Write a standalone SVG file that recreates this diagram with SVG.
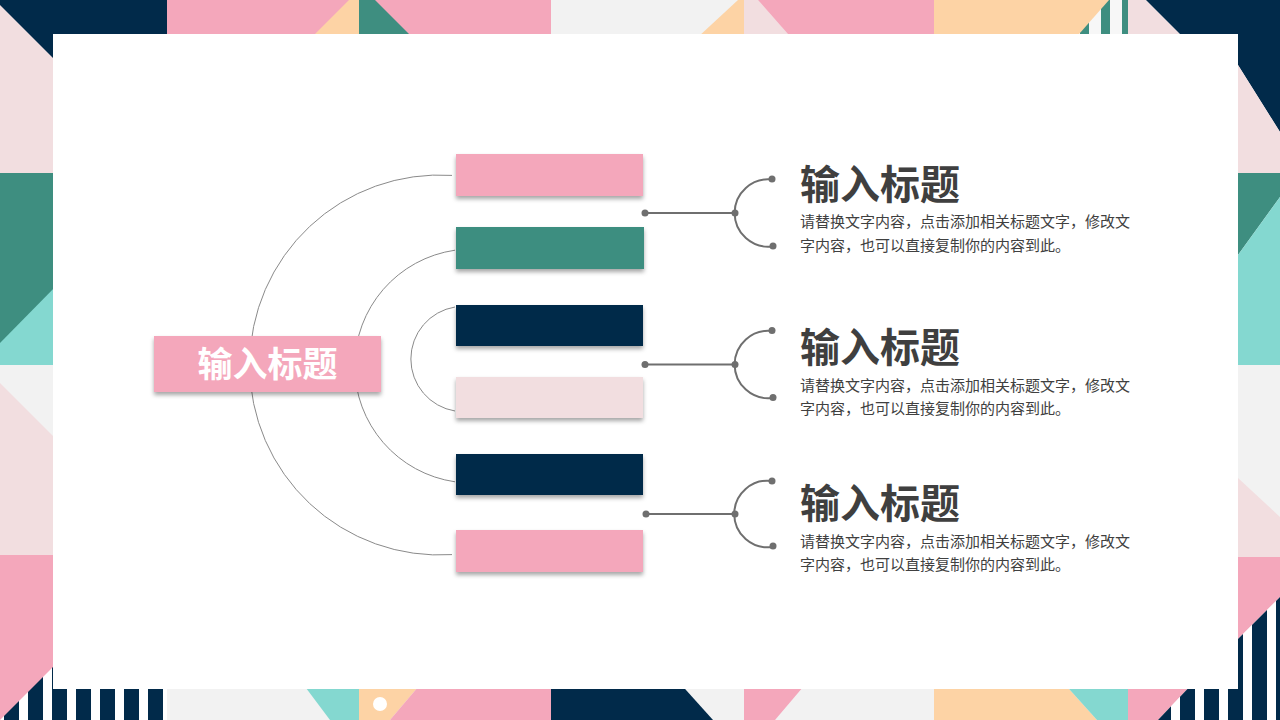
<svg xmlns="http://www.w3.org/2000/svg" width="1280" height="720" viewBox="0 0 1280 720">
  <defs>
    <style>
      .navy{fill:#012A4A}.pink{fill:#F4A7BB}.teal{fill:#3E8E80}.lteal{fill:#84D8D0}
      .peach{fill:#FDD3A5}.lpink{fill:#F2DEE0}.grey{fill:#F2F2F2}
      .arc{fill:none;stroke:#8A8A8A;stroke-width:1}
      .conn{fill:none;stroke:#6F6F6F;stroke-width:2}
      .dot{fill:#6F6F6F}
      .title{font-family:"Noto Sans CJK SC","Noto Sans",sans-serif;font-weight:bold;font-size:40px;fill:#3F3F3F}
      .body{font-family:"Noto Sans CJK SC","Noto Sans",sans-serif;font-size:15px;fill:#404040}
      .label{font-family:"Noto Sans CJK SC","Noto Sans",sans-serif;font-weight:bold;font-size:35px;fill:#FFFFFF}
    </style>
    <pattern id="stripes" patternUnits="userSpaceOnUse" x="0" y="0" width="24" height="10">
      <rect width="24" height="10" fill="#FFFFFF"/>
      <rect x="4" width="15" height="10" fill="#012A4A"/>
    </pattern>
    <pattern id="tstripes" patternUnits="userSpaceOnUse" x="1080" y="0" width="21" height="10">
      <rect width="21" height="10" fill="#F7F7F7"/>
      <rect x="0" width="9" height="10" fill="#3E8E80"/>
    </pattern>
    <filter id="sh" x="-10%" y="-20%" width="120%" height="160%">
      <feDropShadow dx="0" dy="3" stdDeviation="2" flood-color="#000" flood-opacity="0.35"/>
    </filter>
  </defs>

  <!-- background pattern -->
  <g id="background">
    <rect width="1280" height="720" class="grey"/>
    <!-- top strip -->
    <rect x="0" y="0" width="167" height="60" class="navy"/>
    <rect x="167" y="0" width="384" height="50" class="pink"/>
    <polygon points="349,0 359,0 359,50 299,50" class="peach"/>
    <polygon points="359,0 375,0 425,50 359,50" class="teal"/>
    <polygon points="738,0 744,0 744,50 684,50" class="peach"/>
    <polygon points="744,0 758,0 802,50 744,50" class="lpink"/>
    <polygon points="758,0 934,0 934,50 802,50" class="pink"/>
    <polygon points="1070,0 1128,0 1128,50 1070,50" fill="url(#tstripes)"/>
    <polygon points="934,0 1109,0 1065,50 934,50" class="peach"/>
    <polygon points="1128,0 1146,0 1196,50 1128,50" class="lpink"/>
    <polygon points="1146,0 1280,0 1280,132 1238,65 1238,50 1196,50" class="navy"/>
    <!-- left strip -->
    <polygon points="0,5 60,65 60,173 0,173" class="lpink"/>
    <rect x="0" y="173" width="60" height="192" class="teal"/>
    <polygon points="0,343 60,282 60,365 0,365" class="lteal"/>
    <polygon points="0,383 60,443 60,555 0,555" class="lpink"/>
    <rect x="0" y="555" width="60" height="165" class="pink"/>
    <polygon points="0,720 60,660 60,680 167,680 167,720" fill="url(#stripes)"/>
    <!-- right strip -->
    <polygon points="1238,65 1280,132 1280,173 1238,173" class="lpink"/>
    <polygon points="1238,173 1280,173 1280,197 1238,255" class="teal"/>
    <polygon points="1238,255 1280,197 1280,365 1238,365" class="lteal"/>
    <polygon points="1238,478 1280,517 1280,557 1238,557" class="lpink"/>
    <polygon points="1230,557 1280,557 1280,597 1230,647" class="pink"/>
    <!-- bottom strip -->
    <polygon points="300,680 359,680 359,720 330,720" class="lteal"/>
    <polygon points="359,680 424,680 390,720 359,720" class="peach"/>
    <polygon points="424,680 551,680 551,720 390,720" class="pink"/>
    <circle cx="380" cy="704" r="7" fill="#FFFFFF"/>
    <polygon points="551,680 677,680 713,720 551,720" class="navy"/>
    <polygon points="744,680 809,680 775,720 744,720" class="pink"/>
    <polygon points="934,680 1061,680 1097,720 934,720" class="peach"/>
    <polygon points="1061,680 1128,680 1128,720 1097,720" class="lteal"/>
    <polygon points="1128,680 1196,680 1158,720 1128,720" class="pink"/>
    <polygon points="1158,720 1196,680 1238,680 1238,639 1280,597 1280,720" fill="url(#stripes)"/>
  </g>

  <!-- white panel -->
  <rect id="panel" x="53" y="34" width="1185" height="655" fill="#FFFFFF"/>

  <!-- connectors -->
  <g id="connectors">
    <path class="arc" d="M452,175.4 A190,190 0 1 0 452,554.6"/>
    <path class="arc" d="M455,250.2 A117,117 0 0 0 455,481.8"/>
    <path class="arc" d="M455,307 A52.7,52.7 0 0 0 455,411"/>
    <g transform="translate(0,213)">
      <line class="conn" x1="645" y1="0" x2="735" y2="0"/>
      <path class="conn" d="M772,-33.5 A33.7,33.7 0 1 0 772,33.5"/>
      <circle class="dot" cx="645" cy="0" r="3.5"/><circle class="dot" cx="735" cy="0" r="3.5"/>
      <circle class="dot" cx="772" cy="-34" r="3.5"/><circle class="dot" cx="773" cy="33" r="3.5"/>
    </g>
    <g transform="translate(0,364.5)">
      <line class="conn" x1="645" y1="0" x2="735" y2="0"/>
      <path class="conn" d="M772,-33.5 A33.7,33.7 0 1 0 772,33.5"/>
      <circle class="dot" cx="645" cy="0" r="3.5"/><circle class="dot" cx="735" cy="0" r="3.5"/>
      <circle class="dot" cx="772" cy="-34" r="3.5"/><circle class="dot" cx="773" cy="33" r="3.5"/>
    </g>
    <g transform="translate(0,514)">
      <line class="conn" x1="646" y1="0" x2="735" y2="0"/>
      <path class="conn" d="M772,-33 A33.3,33.3 0 1 0 772,33"/>
      <circle class="dot" cx="646" cy="0" r="3.5"/><circle class="dot" cx="735" cy="0" r="3.5"/>
      <circle class="dot" cx="772" cy="-33" r="3.5"/><circle class="dot" cx="773" cy="32" r="3.5"/>
    </g>
  </g>

  <!-- central node -->
  <g id="center-node">
    <rect x="154" y="336" width="227" height="56" class="pink" filter="url(#sh)"/>
    <text class="label" x="267.5" y="377" text-anchor="middle">输入标题</text>
  </g>

  <!-- bars -->
  <g id="bar1"><rect x="456" y="154" width="187" height="42" class="pink" filter="url(#sh)"/></g>
  <g id="bar2"><rect x="456" y="227" width="188" height="42" class="teal" filter="url(#sh)"/></g>
  <g id="bar3"><rect x="456" y="305" width="187" height="41" class="navy" filter="url(#sh)"/></g>
  <g id="bar4"><rect x="456" y="377" width="187" height="41" class="lpink" filter="url(#sh)"/></g>
  <g id="bar5"><rect x="456" y="454" width="187" height="41" class="navy" filter="url(#sh)"/></g>
  <g id="bar6"><rect x="456" y="530" width="187" height="42" class="pink" filter="url(#sh)"/></g>

  <!-- text blocks -->
  <g id="item1">
    <text class="title" x="800" y="199">输入标题</text>
    <text class="body" x="800" y="227">请替换文字内容，点击添加相关标题文字，修改文</text>
    <text class="body" x="800" y="251">字内容，也可以直接复制你的内容到此。</text>
  </g>
  <g id="item2">
    <text class="title" x="800" y="362">输入标题</text>
    <text class="body" x="800" y="391">请替换文字内容，点击添加相关标题文字，修改文</text>
    <text class="body" x="800" y="414">字内容，也可以直接复制你的内容到此。</text>
  </g>
  <g id="item3">
    <text class="title" x="800" y="518">输入标题</text>
    <text class="body" x="800" y="547">请替换文字内容，点击添加相关标题文字，修改文</text>
    <text class="body" x="800" y="570">字内容，也可以直接复制你的内容到此。</text>
  </g>
</svg>
